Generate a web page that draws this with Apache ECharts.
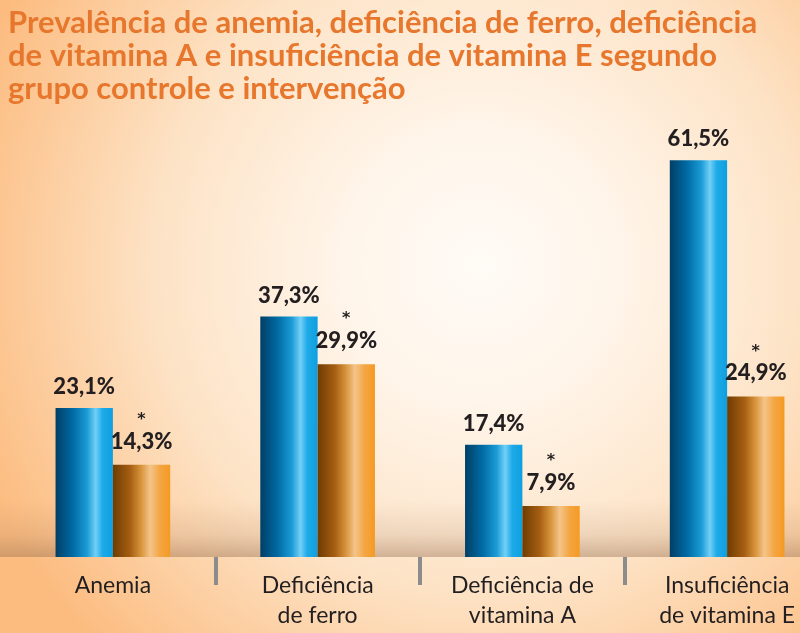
<!DOCTYPE html>
<html>
<head>
<meta charset="utf-8">
<script src="https://cdn.jsdelivr.net/npm/echarts@6/dist/echarts.min.js"></script>
<style>
html,body{margin:0;padding:0;background:#fde6cc;}
#chart{width:800px;height:633px;}
</style>
</head>
<body>
<div id="chart"></div>
<script>
const titleText = 'Prevalência de anemia, deficiência de ferro, deficiência\nde vitamina A e insuficiência de vitamina E segundo\ngrupo controle e intervenção';
const categories = ['Anemia', 'Deficiência\nde ferro', 'Deficiência de\nvitamina A', 'Insuficiência\nde vitamina E'];
const controle = [23.1, 37.3, 17.4, 61.5];
const intervencao = [14.3, 29.9, 7.9, 24.9];

const fmt = v => v.toFixed(1).replace('.', ',') + '%';

const blueGrad = {
  type: 'linear', x: 0, y: 0, x2: 1, y2: 0,
  colorStops: [
    {offset: 0, color: '#003f66'},
    {offset: 0.3, color: '#006aa3'},
    {offset: 0.55, color: '#1b9bd6'},
    {offset: 0.7, color: '#72d0f6'},
    {offset: 0.82, color: '#1eaae8'},
    {offset: 1, color: '#0e9fe0'}
  ]
};
const orangeGrad = {
  type: 'linear', x: 0, y: 0, x2: 1, y2: 0,
  colorStops: [
    {offset: 0, color: '#6e3c02'},
    {offset: 0.3, color: '#a65e12'},
    {offset: 0.5, color: '#d9963e'},
    {offset: 0.65, color: '#f4c48a'},
    {offset: 0.82, color: '#f4a643'},
    {offset: 1, color: '#f59a22'}
  ]
};

const chart = echarts.init(document.getElementById('chart'));
chart.setOption({
  animation: false,
  backgroundColor: 'transparent',
  graphic: [
    {
      type: 'rect', z: -10, silent: true,
      shape: {x: 0, y: 0, width: 800, height: 633},
      style: {
        fill: {
          type: 'radial', x: 0.6, y: 0.42, r: 0.85,
          colorStops: [
            {offset: 0, color: '#fffbf6'},
            {offset: 0.25, color: '#fff5ea'},
            {offset: 0.6, color: '#fde3c6'},
            {offset: 1, color: '#fcbc80'}
          ]
        }
      }
    },
    {
      type: 'rect', z: -9, silent: true,
      shape: {x: 0, y: 500, width: 800, height: 57},
      style: {
        fill: {
          type: 'linear', x: 0, y: 0, x2: 0, y2: 1,
          colorStops: [
            {offset: 0, color: 'rgba(170,130,100,0)'},
            {offset: 0.6, color: 'rgba(160,120,90,0.16)'},
            {offset: 1, color: 'rgba(140,100,70,0.4)'}
          ]
        }
      }
    }
  ],
  title: {
    text: titleText,
    left: 3, top: 1,
    textStyle: {
      fontFamily: 'Lato', fontWeight: 'bold', fontSize: 31,
      lineHeight: 33, color: '#e8772e'
    }
  },
  grid: {left: 10.5, width: 819, top: 41, bottom: 76, containLabel: false, outerBoundsMode: 'none'},
  xAxis: {
    type: 'category',
    data: categories,
    axisLine: {show: false},
    axisTick: {
      show: true, length: 28, inside: false,
      interval: function (index) { return index > 0; },
      lineStyle: {color: '#8c8c8c', width: 4}
    },
    axisLabel: {
      margin: 14, color: '#231f20', fontFamily: 'Lato', fontSize: 23,
      lineHeight: 30, interval: 0
    }
  },
  yAxis: {type: 'value', min: 0, max: 80, show: false, splitLine: {show: false}},
  series: [
    {
      name: 'Controle', type: 'bar', data: controle,
      barGap: '0%', barCategoryGap: '44%',
      itemStyle: {color: blueGrad},
      label: {
        show: true, position: 'top', distance: 10,
        formatter: p => fmt(p.value),
        fontFamily: 'Lato', fontWeight: 900, fontSize: 22, color: '#231f20'
      }
    },
    {
      name: 'Intervenção', type: 'bar', data: intervencao,
      itemStyle: {color: orangeGrad},
      label: {
        show: true, position: 'top', distance: 10,
        formatter: p => '{a|*}\n{v|' + fmt(p.value) + '}',
        rich: {
          a: {fontFamily: 'DejaVu Sans', fontWeight: 'bold', fontSize: 16, lineHeight: 18, color: '#231f20', align: 'center'},
          v: {fontFamily: 'Lato', fontWeight: 900, fontSize: 22, lineHeight: 26, color: '#231f20', align: 'center'}
        }
      }
    }
  ]
});
</script>
</body>
</html>
